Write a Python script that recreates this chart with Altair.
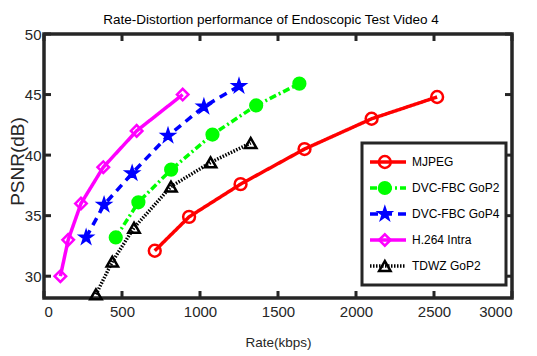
import altair as alt
import pandas as pd

# Rate (kbps) and PSNR (dB) for each codec
series_names = ["MJPEG", "DVC-FBC GoP2", "DVC-FBC GoP4", "H.264 Intra", "TDWZ GoP2"]

mjpeg_rate = [710, 930, 1260, 1670, 2100, 2520]
mjpeg_psnr = [32.1, 34.9, 37.6, 40.5, 43.0, 44.8]

gop2_rate = [460, 605, 815, 1080, 1360, 1637]
gop2_psnr = [33.2, 36.1, 38.8, 41.7, 44.1, 45.9]

gop4_rate = [270, 385, 565, 795, 1025, 1250]
gop4_psnr = [33.2, 35.9, 38.5, 41.6, 44.0, 45.7]

h264_rate = [105, 155, 237, 380, 594, 889]
h264_psnr = [30.0, 33.0, 36.0, 39.0, 42.0, 45.0]

tdwz_rate = [333, 438, 577, 814, 1068, 1325]
tdwz_psnr = [28.5, 31.2, 34.0, 37.4, 39.4, 41.0]

x_ticks = [0, 500, 1000, 1500, 2000, 2500, 3000]
y_ticks = [30, 35, 40, 45, 50]

rates = [mjpeg_rate, gop2_rate, gop4_rate, h264_rate, tdwz_rate]
psnrs = [mjpeg_psnr, gop2_psnr, gop4_psnr, h264_psnr, tdwz_psnr]

rows = []
for idx, (name, rs, ps) in enumerate(zip(series_names, rates, psnrs)):
    for order, (r, p) in enumerate(zip(rs, ps)):
        rows.append({"series": name, "marker": idx, "rate": r, "psnr": p, "order": order})
df = pd.DataFrame(rows)
marker_ids = list(range(len(series_names)))

colors = ["#ff0000", "#00ff00", "#0000ff", "#ff00ff", "#000000"]
fills = ["transparent", "#00ff00", "#0000ff", "transparent", "transparent"]
star = ("M0,-1L0.2245,-0.309L0.951,-0.309L0.3633,0.118L0.5878,0.809L0,0.382"
        "L-0.5878,0.809L-0.3633,0.118L-0.951,-0.309L-0.2245,-0.309Z")
shapes = ["circle", "circle", star, "diamond", "triangle-up"]
sizes = [140, 130, 300, 170, 170]
dashes = [[1, 0], [7, 3, 2, 3], [8, 6], [1, 0], [1.5, 1.5]]

W, H = 468, 264
FONT = "Liberation Sans, Arial"
AXIS_COLOR = "#262626"

x_scale = alt.Scale(domain=[0, 3000], nice=False, zero=False)
y_scale = alt.Scale(domain=[28.2, 50], nice=False, zero=False)

x_enc = alt.X("rate:Q", scale=x_scale,
              axis=alt.Axis(values=x_ticks, title="Rate(kbps)", grid=False, ticks=False,
                            domain=False, labelPadding=6, format="d",
                            titleY=44, titleBaseline="middle"))
y_enc = alt.Y("psnr:Q", scale=y_scale,
              axis=alt.Axis(values=y_ticks, title="PSNR(dB)", grid=False, ticks=False,
                            domain=False, labelPadding=3,
                            titleX=-27, titleY=127, titleBaseline="middle"))

LINE_LEN = 36
legend_common = dict(orient="none", legendX=318, legendY=109, title=None,
                     labelFont=FONT, labelFontSize=12, labelColor="black",
                     rowPadding=0, clipHeight=26, padding=6, labelOffset=4)

# boxed legend with line samples and labels; marker symbols are overlaid on it
line_legend = alt.Legend(strokeColor=AXIS_COLOR, symbolType="stroke",
                         symbolSize=LINE_LEN * LINE_LEN, symbolStrokeWidth=3.5,
                         **legend_common)
marker_legend = alt.Legend(symbolOffset=LINE_LEN / 2 - max(sizes) ** 0.5 / 2,
                           symbolStrokeWidth=2.5, labelExpr="''", **legend_common)

lines = alt.Chart(df).mark_line(strokeWidth=3.5).encode(
    x=x_enc,
    y=y_enc,
    order="order:Q",
    stroke=alt.Stroke("series:N", scale=alt.Scale(domain=series_names, range=colors),
                      legend=line_legend),
    strokeDash=alt.StrokeDash("series:N", scale=alt.Scale(domain=series_names, range=dashes),
                              legend=line_legend),
)

points = alt.Chart(df).mark_point(filled=False, strokeWidth=2.5, opacity=1).encode(
    x=alt.X("rate:Q", scale=x_scale),
    y=alt.Y("psnr:Q", scale=y_scale),
    color=alt.Color("marker:O", scale=alt.Scale(domain=marker_ids, range=colors),
                    legend=marker_legend),
    shape=alt.Shape("marker:O", scale=alt.Scale(domain=marker_ids, range=shapes),
                    legend=marker_legend),
    fill=alt.Fill("marker:O", scale=alt.Scale(domain=marker_ids, range=fills),
                  legend=marker_legend),
    size=alt.Size("marker:O", scale=alt.Scale(domain=marker_ids, range=sizes),
                  legend=marker_legend),
)

# inward tick marks on all four sides
xt = pd.DataFrame({"rate": x_ticks})
yt = pd.DataFrame({"psnr": y_ticks})
tick_len = 7
bottom_ticks = alt.Chart(xt).mark_rule(color=AXIS_COLOR, strokeWidth=3).encode(
    x=alt.X("rate:Q", scale=x_scale), y=alt.value(H), y2=alt.value(H - tick_len))
top_ticks = alt.Chart(xt).mark_rule(color=AXIS_COLOR, strokeWidth=3).encode(
    x=alt.X("rate:Q", scale=x_scale), y=alt.value(0), y2=alt.value(tick_len))
left_ticks = alt.Chart(yt).mark_rule(color=AXIS_COLOR, strokeWidth=3).encode(
    y=alt.Y("psnr:Q", scale=y_scale), x=alt.value(0), x2=alt.value(tick_len))
right_ticks = alt.Chart(yt).mark_rule(color=AXIS_COLOR, strokeWidth=3).encode(
    y=alt.Y("psnr:Q", scale=y_scale), x=alt.value(W), x2=alt.value(W - tick_len))

chart = alt.layer(
    bottom_ticks, top_ticks, left_ticks, right_ticks, lines, points
).properties(
    width=W,
    height=H,
    title=alt.TitleParams("Rate-Distortion performance of Endoscopic Test Video 4",
                          font=FONT, fontSize=13.5, fontWeight="normal", color="black",
                          offset=1, dx=-7),
    autosize=alt.AutoSizeParams(type="none"),
    padding={"left": 44, "top": 34, "right": 25, "bottom": 58},
).configure_view(
    stroke=AXIS_COLOR, strokeWidth=3.5
).configure_legend(
    strokeWidth=3
).configure_axis(
    labelFont=FONT, labelFontSize=15, labelColor=AXIS_COLOR,
    titleFont=FONT, titleFontSize=13.5, titleFontWeight="normal", titleColor=AXIS_COLOR,
).configure_axisY(
    titleFontSize=19
)

chart.save("out.html", embed_options={"renderer": "svg", "actions": False})
